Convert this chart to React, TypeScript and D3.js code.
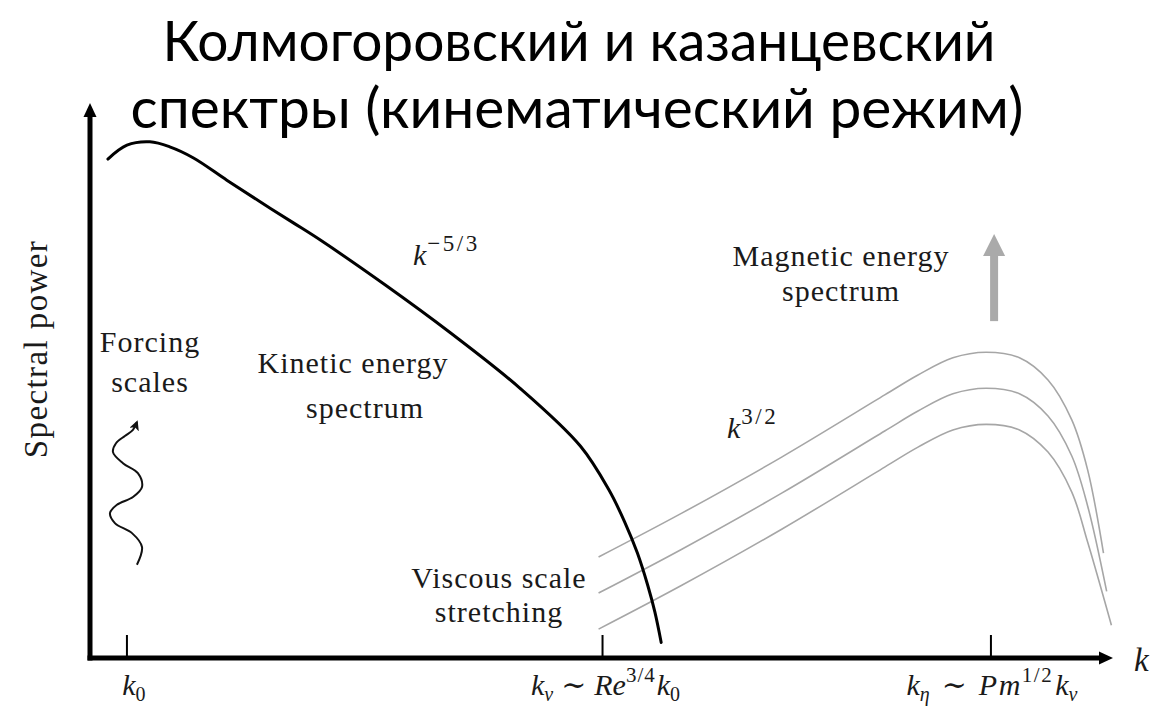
import React from "react";
import * as d3 from "d3";

const W = 1158;
const H = 711;

// Wavenumber marks on the k axis (log k units)
const K0 = 0;
const K_NU = 3;
const K_ETA = 5.45;
const TICKS = [K0, K_NU, K_ETA];

// Kinetic energy spectrum: [log k, log power]
const KINETIC: [number, number][] = [
  [-0.12, 8.99], [0, 9.24], [0.145, 9.3], [0.27, 9.21], [0.42, 9.01],
  [0.63, 8.61], [0.84, 8.22], [1.05, 7.84], [1.22, 7.53], [1.63, 6.72],
  [2.04, 5.86], [2.48, 4.86], [2.86, 3.82], [3.04, 3.03], [3.14, 2.45],
  [3.22, 1.89], [3.285, 1.31], [3.33, 0.83], [3.37, 0.28],
];

// Magnetic energy spectra at three successive times (growing amplitude)
const MAG_LATE: [number, number][] = [
  [2.975, 1.82], [3.5, 2.61], [4.13, 3.62], [4.78, 4.74], [4.99, 5.1],
  [5.21, 5.41], [5.42, 5.51], [5.63, 5.41], [5.81, 5.01], [5.96, 4.29],
  [6.06, 3.39], [6.16, 1.89],
];
const MAG_MID: [number, number][] = [
  [2.975, 1.17], [3.5, 1.96], [4.13, 2.97], [4.78, 4.09], [4.99, 4.45],
  [5.21, 4.76], [5.42, 4.86], [5.63, 4.76], [5.81, 4.36], [5.96, 3.64],
  [6.06, 2.74], [6.18, 1.2],
];
const MAG_EARLY: [number, number][] = [
  [2.975, 0.52], [3.5, 1.31], [4.13, 2.32], [4.78, 3.44], [4.99, 3.8],
  [5.21, 4.11], [5.42, 4.21], [5.63, 4.11], [5.81, 3.71], [5.96, 2.99],
  [6.06, 2.09], [6.21, 0.59],
];
const MAGNETIC = [MAG_LATE, MAG_MID, MAG_EARLY];

// Wavy "forcing" arrow near k0
const FORCING_WAVE: [number, number][] = [
  [0.063, 1.68], [0.095, 2.0], [0.032, 2.25], [-0.076, 2.43], [-0.107, 2.61],
  [-0.063, 2.76], [0.038, 2.9], [0.095, 3.08], [0.069, 3.33], [-0.025, 3.51],
  [-0.088, 3.71], [-0.069, 3.87], [-0.013, 4.0], [0.038, 4.11], [0.063, 4.25],
];

// Growth arrow for the magnetic spectrum: k position and power range
const GROWTH_K = 5.47;
const GROWTH_P: [number, number] = [6.07, 7.64];

const TITLE = ["Колмогоровский и казанцевский", "спектры (кинематический режим)"];

const SERIF = "'Liberation Serif', 'DejaVu Serif', serif";

export default function App() {
  const x = d3.scaleLinear().domain([-0.233, 6.22]).range([90, 1113]);
  const y = d3.scaleLinear().domain([0, 10]).range([658, 103]);

  const line = d3
    .line<[number, number]>()
    .x((d) => x(d[0]))
    .y((d) => y(d[1]))
    .curve(d3.curveCatmullRom.alpha(0.5));

  const x0 = x.range()[0];
  const x1 = x.range()[1];
  const y0 = y.range()[0];
  const y1 = y.range()[1];

  const gx = x(GROWTH_K);
  const gBottom = y(GROWTH_P[0]);
  const gTop = y(GROWTH_P[1]);

  const sub = { fontSize: 20, dy: 6 };

  return (
    <svg
      width={W}
      height={H}
      viewBox={`0 0 ${W} ${H}`}
      style={{ position: "absolute", left: 0, top: 0, display: "block", background: "#fff" }}
    >
      <defs>
        <marker
          id="waveHead"
          viewBox="0 0 10 10"
          refX="8"
          refY="5"
          markerWidth="5"
          markerHeight="5"
          orient="auto"
          markerUnits="strokeWidth"
        >
          <path d="M0,0 L10,5 L0,10 L2.5,5 Z" fill="#111" />
        </marker>
      </defs>

      {/* Title */}
      <g fontFamily="Lato, 'Open Sans', sans-serif" fontSize={56} fill="#000" textAnchor="middle">
        <text x={579} y={61} textLength={833} lengthAdjust="spacingAndGlyphs">{TITLE[0]}</text>
        <text x={577} y={128} textLength={893} lengthAdjust="spacingAndGlyphs">{TITLE[1]}</text>
      </g>

      {/* Magnetic spectra */}
      <g fill="none" stroke="#a6a6a6" strokeWidth={1.6}>
        {MAGNETIC.map((s, i) => (
          <path key={i} d={line(s) ?? ""} />
        ))}
      </g>

      {/* Kinetic spectrum */}
      <path d={line(KINETIC) ?? ""} fill="none" stroke="#000" strokeWidth={3} strokeLinecap="round" />

      {/* Forcing wave */}
      <path
        d={line(FORCING_WAVE) ?? ""}
        fill="none"
        stroke="#111"
        strokeWidth={2}
        markerEnd="url(#waveHead)"
      />

      {/* Growth arrow */}
      <line x1={gx} x2={gx} y1={gBottom} y2={gTop + 18} stroke="#aaaaaa" strokeWidth={8} />
      <path
        d={`M${gx},${gTop} L${gx + 11},${gTop + 22} L${gx - 11},${gTop + 22} Z`}
        fill="#aaaaaa"
      />

      {/* Axes */}
      <line x1={x0} x2={x0} y1={y0 + 2.5} y2={y1 + 10} stroke="#000" strokeWidth={5} />
      <path d={`M${x0},${y1} L${x0 + 6.5},${y1 + 14} L${x0 - 6.5},${y1 + 14} Z`} fill="#000" />
      <line x1={x0 - 2.5} x2={x1 - 10} y1={y0} y2={y0} stroke="#000" strokeWidth={5} />
      <path d={`M${x1},${y0} L${x1 - 14},${y0 - 6.5} L${x1 - 14},${y0 + 6.5} Z`} fill="#000" />

      {TICKS.map((t) => (
        <line key={t} x1={x(t)} x2={x(t)} y1={y0} y2={y0 - 23} stroke="#000" strokeWidth={2} />
      ))}

      <g fontFamily={SERIF} fill="#1a1a1a">
        {/* Axis labels */}
        <text
          transform="translate(47,349) rotate(-90)"
          textAnchor="middle"
          fontSize={33}
          letterSpacing={1.4}
        >
          Spectral power
        </text>
        <text x={1134} y={671} fontSize={33} fontStyle="italic">k</text>

        {/* Tick labels */}
        <text x={x(K0) + 7} y={695} fontSize={30} textAnchor="middle">
          <tspan fontStyle="italic">k</tspan>
          <tspan fontSize={sub.fontSize} dy={sub.dy}>0</tspan>
        </text>
        <text x={x(K_NU) + 3} y={695} fontSize={30} textAnchor="middle">
          <tspan fontStyle="italic">k</tspan>
          <tspan fontSize={sub.fontSize} dy={sub.dy} fontStyle="italic">ν</tspan>
          <tspan dy={-sub.dy} dx={8}>∼</tspan>
          <tspan dx={8} fontStyle="italic">Re</tspan>
          <tspan fontSize={21} dy={-13} letterSpacing={1}>3/4</tspan>
          <tspan dy={13} dx={1} fontStyle="italic">k</tspan>
          <tspan fontSize={sub.fontSize} dy={sub.dy}>0</tspan>
        </text>
        <text x={x(K_ETA) + 1} y={695} fontSize={30} textAnchor="middle">
          <tspan fontStyle="italic">k</tspan>
          <tspan fontSize={sub.fontSize} dy={sub.dy} fontStyle="italic">η</tspan>
          <tspan dy={-sub.dy} dx={12}>∼</tspan>
          <tspan dx={12} fontStyle="italic" letterSpacing={1.5}>Pm</tspan>
          <tspan fontSize={21} dy={-13} letterSpacing={1.5}>1/2</tspan>
          <tspan dy={13} dx={2} fontStyle="italic">k</tspan>
          <tspan fontSize={sub.fontSize} dy={sub.dy} fontStyle="italic">ν</tspan>
        </text>

        {/* Annotations */}
        <g fontSize={30} textAnchor="middle" letterSpacing={1}>
          <text x={150} y={352}>Forcing</text>
          <text x={150} y={392}>scales</text>
          <text x={353} y={373}>Kinetic energy</text>
          <text x={365} y={418}>spectrum</text>
          <text x={841} y={266}>Magnetic energy</text>
          <text x={841} y={301}>spectrum</text>
          <text x={499} y={588}>Viscous scale</text>
          <text x={499} y={622}>stretching</text>
        </g>

        <text x={413} y={265} fontSize={30}>
          <tspan fontStyle="italic">k</tspan>
          <tspan fontSize={23} dy={-14} dx={1} letterSpacing={2.5}>−5/3</tspan>
        </text>
        <text x={727} y={438} fontSize={30}>
          <tspan fontStyle="italic">k</tspan>
          <tspan fontSize={23} dy={-14} dx={1} letterSpacing={2.5}>3/2</tspan>
        </text>
      </g>
    </svg>
  );
}
